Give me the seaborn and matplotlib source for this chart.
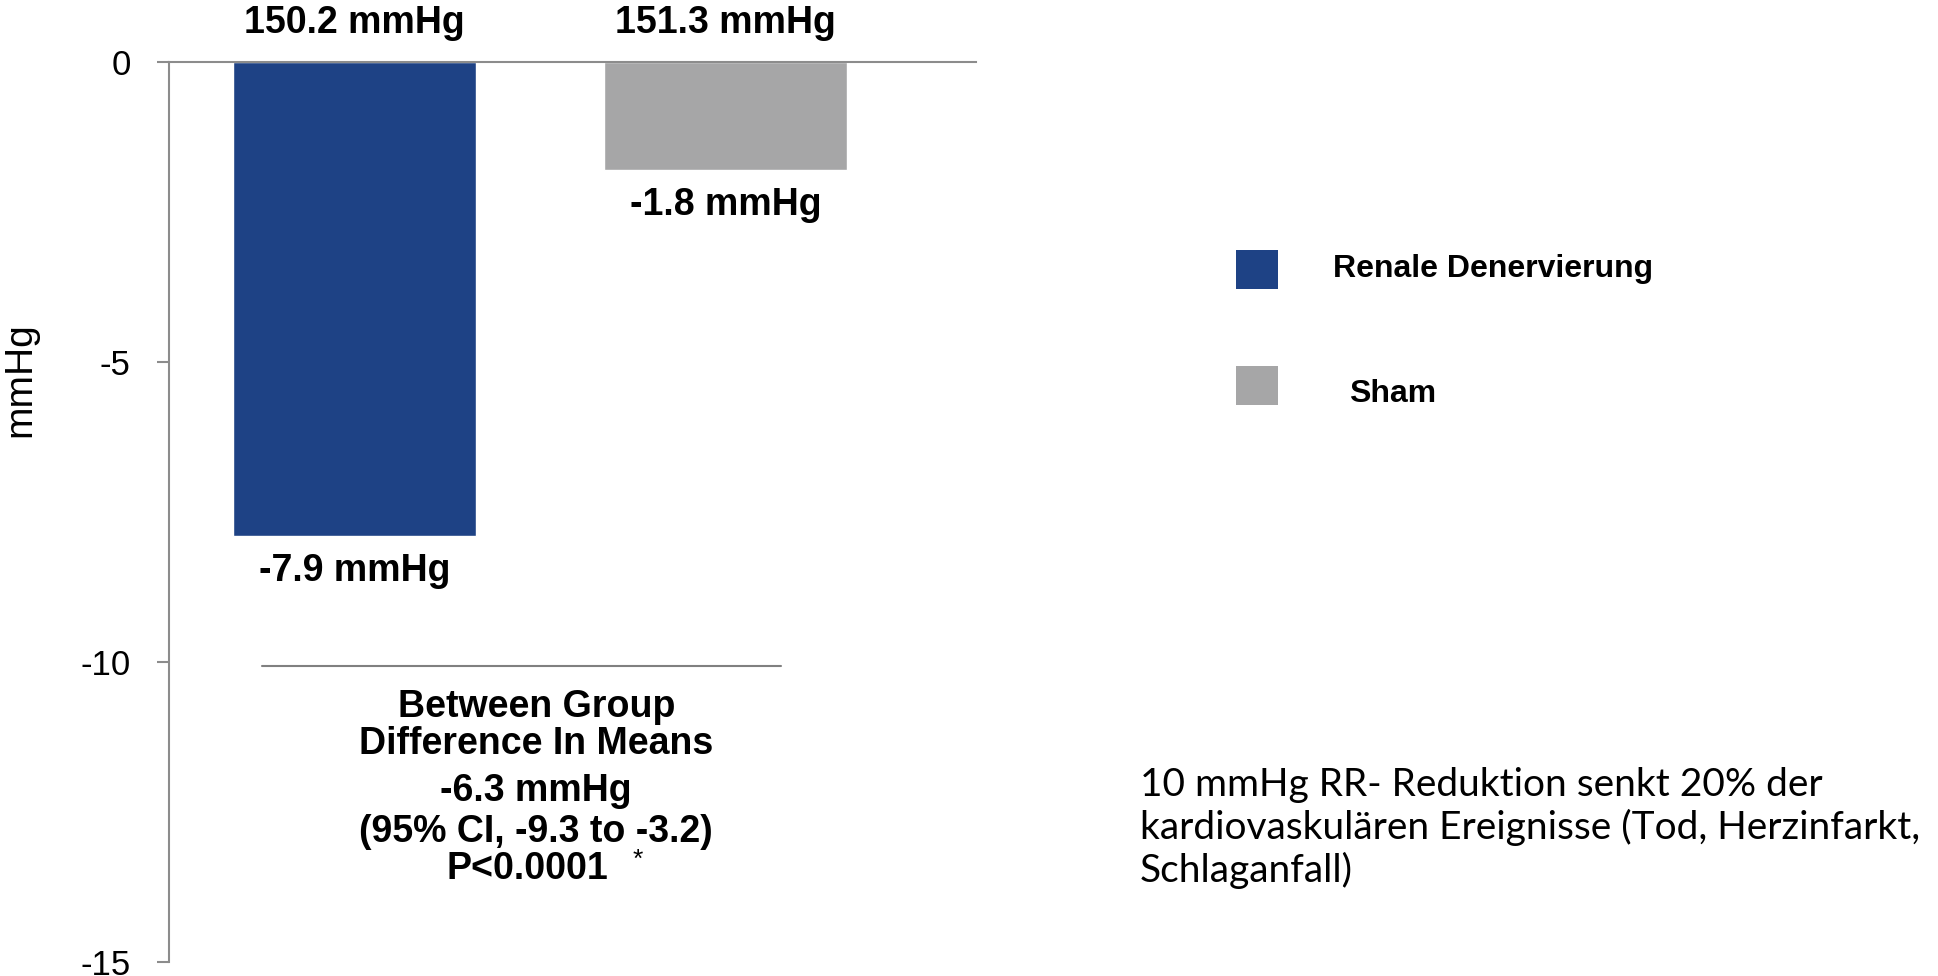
# Blutdrucksenkung: Renale Denervierung vs Sham
import matplotlib
matplotlib.use("Agg")
import matplotlib.pyplot as plt
from matplotlib.patches import Patch
import seaborn as sns

groups = ["Renale Denervierung", "Sham"]
changes = [-7.9, -1.8]
baseline_labels = ["150.2 mmHg", "151.3 mmHg"]
change_labels = ["-7.9 mmHg", "-1.8 mmHg"]
colors = ["#1E4285", "#A6A6A7"]
yticks = [0, -5, -10, -15]
diff_lines = ["Between Group", "Difference In Means", "-6.3 mmHg",
              "(95% CI, -9.3 to -3.2)", "P<0.0001"]
note = ("10 mmHg RR- Reduktion senkt 20% der\n"
        "kardiovaskulären Ereignisse (Tod, Herzinfarkt,\n"
        "Schlaganfall)")

sns.set_style("white")
plt.rcParams["font.family"] = ["Liberation Sans", "DejaVu Sans"]
plt.rcParams["text.color"] = "black"
plt.rcParams["axes.labelcolor"] = "black"
plt.rcParams["ytick.labelcolor"] = "black"

fig = plt.figure(figsize=(19.38, 9.76), dpi=100)
ax = fig.add_axes([0.0872, 0.0143, 0.4164, 0.9222])

sns.barplot(x=groups, y=changes, hue=groups, palette=colors, width=0.656,
            saturation=1, legend=False, ax=ax)

ax.set_xlim(-0.5, 1.675)
ax.set_ylim(-15, 0)
ax.set_yticks(yticks)
ax.set_yticklabels([str(t) for t in yticks], fontsize=25)
ax.set_xticks([])
ax.set_xlabel("")
ax.set_ylabel("mmHg", fontsize=28)
ax.yaxis.set_label_coords(-0.162, 0.647)
ax.tick_params(axis="y", direction="out", length=8.6, width=1.5,
               color="#8C8C8C", pad=19, left=True)

for side in ["bottom", "right"]:
    ax.spines[side].set_visible(False)
for side in ["top", "left"]:
    ax.spines[side].set_visible(True)
    ax.spines[side].set_color("#8C8C8C")
    ax.spines[side].set_linewidth(1.5)

# labels above and below bars
for i, (top, low, v) in enumerate(zip(baseline_labels, change_labels, changes)):
    ax.text(i, 0.65, top, ha="center", va="center", fontsize=27,
            fontweight="bold", clip_on=False)
    ax.text(i, v - 0.58, low, ha="center", va="center", fontsize=27,
            fontweight="bold")

# between group difference block
ax.plot([-0.25, 1.15], [-10.07, -10.07], color="#808080", lw=1.5)
ys = [-10.75, -11.37, -12.15, -12.83, -13.45]
xs = [0.49, 0.49, 0.49, 0.49, 0.466]
for x, y, s in zip(xs, ys, diff_lines):
    ax.text(x, y, s, ha="center", va="center", fontsize=27, fontweight="bold")
ax.text(0.75, -13.3, "*", ha="left", va="center", fontsize=19)

handles = [Patch(facecolor=c, edgecolor="none") for c in colors]
leg = fig.legend(handles, groups, loc="upper left",
                 bbox_to_anchor=(1236 / 1938, 1 - 250 / 976),
                 frameon=False, fontsize=23, handlelength=1.32,
                 handleheight=1.5, handletextpad=1.72, labelspacing=2.41,
                 borderpad=0, borderaxespad=0)
for t in leg.get_texts():
    t.set_fontweight("bold")
# small offsets of the legend texts as in the original slide
leg.get_texts()[0].set_position((0, 3))
leg.get_texts()[1].set_position((16, -6))

fig.text(1140 / 1938, 1 - 767 / 976, note, ha="left", va="top",
         fontsize=28, family=["Lato", "DejaVu Sans"], linespacing=1.2)

fig.savefig("out.png", dpi=100)
